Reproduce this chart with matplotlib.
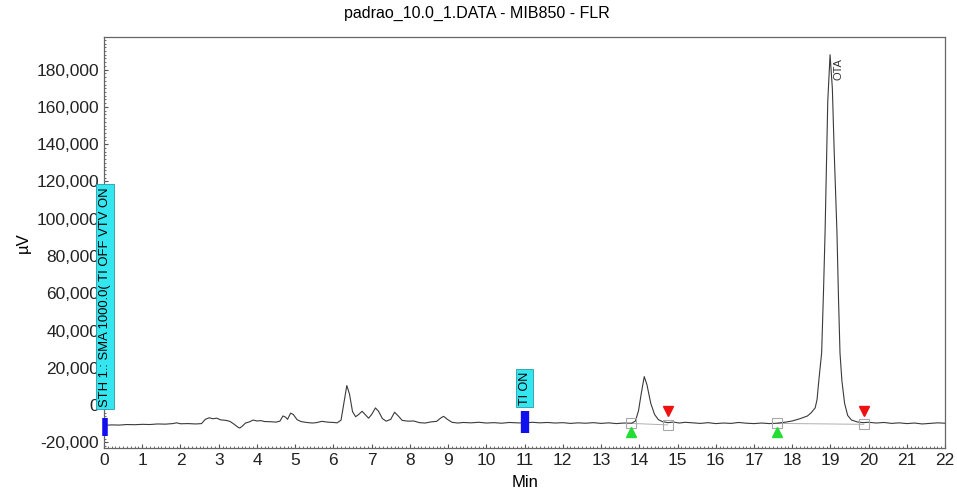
import numpy as np
from matplotlib import pyplot as plt
from matplotlib.ticker import MultipleLocator, FuncFormatter

plt.rcParams['font.family'] = ['Liberation Sans', 'DejaVu Sans']

# chromatogram trace (min, uV)
t = [0.05, 0.2, 0.4, 0.6, 0.8, 1.0, 1.2, 1.4, 1.6, 1.8, 1.9, 2.0, 2.2, 2.4, 2.55,
     2.65, 2.75, 2.85, 2.95, 3.05, 3.2, 3.3, 3.4, 3.5, 3.55, 3.62, 3.7, 3.8, 3.9,
     4.0, 4.1, 4.2, 4.35, 4.5, 4.6, 4.68, 4.75, 4.8, 4.88, 4.95, 5.05, 5.15, 5.3,
     5.45, 5.55, 5.7, 5.8, 5.9, 6.0, 6.1, 6.2, 6.28, 6.35, 6.42, 6.5, 6.58, 6.65,
     6.75, 6.85, 6.92, 7.0, 7.1, 7.18, 7.28, 7.38, 7.5, 7.6, 7.7, 7.8, 7.95, 8.1,
     8.25, 8.4, 8.55, 8.7, 8.8, 8.88, 8.98, 9.1, 9.25, 9.4, 9.6, 9.8, 10.0, 10.2,
     10.4, 10.6, 10.8, 11.0, 11.2, 11.4, 11.6, 11.8, 12.0, 12.2, 12.4, 12.6, 12.8,
     13.0, 13.2, 13.4, 13.6, 13.8, 13.9, 13.98, 14.05, 14.13, 14.2, 14.3, 14.4,
     14.5, 14.6, 14.75, 14.9, 15.05, 15.2, 15.4, 15.6, 15.8, 16.0, 16.2, 16.4,
     16.6, 16.8, 17.0, 17.2, 17.4, 17.6, 17.8, 18.0, 18.2, 18.4, 18.5, 18.6, 18.65,
     18.7, 18.77, 18.82, 18.86, 18.93, 18.99, 19.05, 19.1, 19.17, 19.21, 19.25,
     19.3, 19.37, 19.45, 19.55, 19.7, 19.85, 20.0, 20.2, 20.4, 20.6, 20.8, 21.0,
     21.2, 21.4, 21.6, 21.8, 22.0]
uv = [-10800, -10600, -10700, -10400, -10500, -10300, -10400, -10100, -10200,
      -9900, -9500, -10000, -9900, -10100, -9900,
      -7600, -6800, -7300, -7000, -7900, -8200, -8800, -10200, -11800, -12300,
      -11200, -9600, -9000, -8000,
      -8500, -8300, -8800, -8900, -9100, -8600, -5800, -6500, -7600, -4300, -5000,
      -7800, -8800, -9300,
      -9600, -9400, -8700, -9000, -9200, -9300, -9500, -8000, 2000, 10500, 6000,
      -3500, -6200, -5200,
      -3300, -5500, -7000, -5000, -1500, -3300, -7200, -8600, -7600, -3800, -5900,
      -8200, -8600, -8500,
      -9400, -9600, -9000, -8700, -7000, -6000, -7600, -9200, -9600, -9300, -9500,
      -9200, -9600, -9400,
      -9700, -9300, -9500, -9600, -9200, -9500, -9300, -9600, -9400, -9800, -9500,
      -9700, -9400,
      -9800, -9500, -9900, -9600, -9700, -8500, -3000, 6000, 15300, 11000, 1000,
      -5000,
      -7800, -8800, -9400, -9100, -9600, -9200, -9500, -9800, -9400, -9900, -9600,
      -9800,
      -9300, -9700, -9900, -9600, -9900, -9700, -9200, -8500, -7300, -5800, -4000,
      -1500, 3000,
      14000, 28000, 62000, 93000, 163000, 188000, 170000, 135000, 93000, 58000,
      28000, 13000, 1000,
      -5500, -8000, -9000, -9400, -9200, -9600, -9300, -9800, -9500, -9900, -9600,
      -10100,
      -9800, -9500, -9700]

# peak start / end markers
start_t = [13.79, 17.61]
start_base = [-9800, -9800]
end_t = [14.74, 19.87]
end_base = [-10600, -10300]

fig = plt.figure(figsize=(9.57, 4.9), dpi=100)
ax = fig.add_axes([0.1087, 0.0857, 0.8789, 0.8388])

ax.plot(t, uv, color='#3a3a3a', lw=0.8, zorder=3)

# integration baselines
for a, b, ya, yb in zip(start_t, end_t, start_base, end_base):
    ax.plot([a, b], [ya, yb], color='#b0b0b0', lw=0.7, zorder=2)

ax.plot(start_t + end_t, start_base + end_base, 's', ms=7, mfc='none',
        mec='#a8a8a8', mew=0.8, zorder=4)
ax.plot(start_t, [-14600, -14600], '^', ms=7, color='#22dd33', zorder=4)
ax.plot(end_t, [-3000, -3000], 'v', ms=7, color='#ee1111', zorder=4)

ax.text(19.21, 186000, 'OTA', rotation=90, ha='center', va='top', fontsize=8,
        color='#333333')

# timed events
ax.vlines(0.03, -16400, -6700, color='#1010ee', lw=4, zorder=5, clip_on=False)
ax.vlines(11.0, -15200, -3300, color='#1010ee', lw=6, zorder=5)
ax.text(0.03, -800, 'STH 1.: SMA 1000.0( TI OFF VTV ON', rotation=90,
        ha='center', va='bottom', fontsize=9.4, zorder=6, clip_on=False,
        bbox=dict(boxstyle='square,pad=0.22', fc='#33e6f0', ec='#2a9aa8', lw=0.6))
ax.text(11.0, 300, 'TI ON', rotation=90, ha='center', va='bottom', fontsize=9,
        zorder=6, bbox=dict(boxstyle='square,pad=0.22', fc='#33e6f0', ec='#2a9aa8',
                            lw=0.6))

ax.set_xlim(0, 22)
ax.set_ylim(-23000, 197500)
ax.xaxis.set_major_locator(MultipleLocator(1))
ax.xaxis.set_minor_locator(MultipleLocator(0.1))
ax.yaxis.set_major_locator(MultipleLocator(20000))
ax.yaxis.set_minor_locator(MultipleLocator(2000))
ax.yaxis.set_major_formatter(FuncFormatter(lambda v, p: f'{int(v):,}'))
ax.tick_params(which='both', direction='in', colors='#555555', labelcolor='#222222',
               labelsize=12.5)
ax.tick_params(which='major', length=3)
ax.tick_params(which='minor', length=1.5, width=0.6)
for s in ax.spines.values():
    s.set_color('#666666')
    s.set_linewidth(0.9)

fig.suptitle('padrao_10.0_1.DATA - MIB850 - FLR', fontsize=11.5, x=0.498, y=0.988,
             va='top')
ax.set_xlabel('Min', fontsize=12, labelpad=5)
ax.set_ylabel('µV', fontsize=12, labelpad=4)

plt.savefig('out.png', dpi=100)
